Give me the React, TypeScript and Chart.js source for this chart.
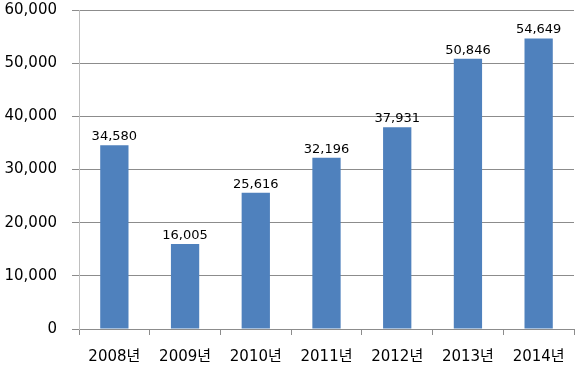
import React, { useEffect, useRef } from "react";
import { Chart, registerables } from "chart.js";

Chart.register(...registerables);

const categories = ["2008년", "2009년", "2010년", "2011년", "2012년", "2013년", "2014년"];
const values = [34580, 16005, 25616, 32196, 37931, 50846, 54649];
const yMin = 0;
const yMax = 60000;
const yStep = 10000;

const FONT = "'DejaVu Sans', 'Noto Sans CJK KR', sans-serif";

const valueLabels = {
  id: "valueLabels",
  afterDatasetsDraw(chart: any) {
    const ctx = chart.ctx;
    const meta = chart.getDatasetMeta(0);
    ctx.save();
    ctx.font = `13px ${FONT}`;
    ctx.fillStyle = "#000";
    ctx.textAlign = "center";
    ctx.textBaseline = "bottom";
    meta.data.forEach((bar: any, i: number) => {
      ctx.fillText(values[i].toLocaleString("en-US"), bar.x, bar.y - 2);
    });
    ctx.restore();
  },
};

export default function App() {
  const ref = useRef<HTMLCanvasElement>(null);
  useEffect(() => {
    const chart = new Chart(ref.current!, {
      type: "bar",
      data: {
        labels: categories,
        datasets: [
          {
            data: values,
            backgroundColor: "#4F81BD",
            categoryPercentage: 1,
            barPercentage: 0.4,
          },
        ],
      },
      options: {
        animation: false,
        responsive: true,
        maintainAspectRatio: false,
        layout: { padding: { top: 0, right: 6, left: 0, bottom: 0 } },
        plugins: { legend: { display: false }, tooltip: { enabled: false } },
        scales: {
          x: {
            offset: true,
            afterFit: (s: any) => {
              s.height = 42;
              s.paddingLeft = 0;
              s.paddingRight = 0;
            },
            grid: {
              offset: true,
              drawOnChartArea: false,
              drawTicks: true,
              tickLength: 6,
              color: "#8c8c8c",
            },
            border: { color: "#8c8c8c" },
            ticks: { color: "#000", font: { size: 15, family: FONT }, padding: 13 },
          },
          y: {
            min: yMin,
            max: yMax,
            afterFit: (s: any) => {
              s.width = 79;
              s.paddingTop = 10;
              s.paddingBottom = 0;
            },
            grid: { color: "#8c8c8c", tickLength: 7 },
            border: { color: "#bfbfbf" },
            ticks: {
              stepSize: yStep,
              color: "#000",
              padding: 15,
              font: { size: 15, family: FONT },
              callback: (v: any) => Number(v).toLocaleString("en-US"),
            },
          },
        },
      },
      plugins: [valueLabels],
    });
    return () => chart.destroy();
  }, []);
  return (
    <div style={{ position: "fixed", left: 0, top: 0, width: 580, height: 371 }}>
      <canvas ref={ref} />
    </div>
  );
}
